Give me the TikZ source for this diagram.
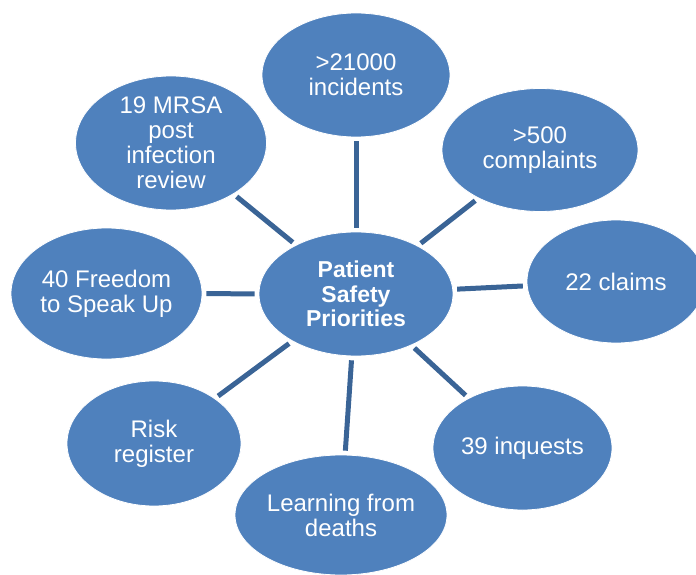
\documentclass[tikz,border=0pt]{standalone}
\usepackage{fontspec}
\setmainfont{Liberation Sans}
\usetikzlibrary{shapes.geometric}
\definecolor{bubble}{HTML}{4F81BD}
\definecolor{connc}{HTML}{3A6496}
\tikzset{
  bub/.style={ellipse, fill=bubble, draw=white, line width=0.8pt, inner sep=0pt,
    text=white, align=center, font=\fontsize{24}{25}\selectfont},
  conn/.style={draw=connc, line width=5pt, shorten <=4pt, shorten >=4pt}
}
\begin{document}
\begin{tikzpicture}[x=1pt,y=-1pt]
\useasboundingbox (0,0) rectangle (696,575);
\node[bub, minimum width=194pt, minimum height=124pt, font=\fontsize{23}{24.5}\selectfont\bfseries] (c) at (356,294) {Patient\\Safety\\Priorities};
\node[bub, minimum width=188pt, minimum height=124pt] (inc) at (356,75) {>21000\\incidents};
\node[bub, minimum width=196pt, minimum height=123pt] (comp) at (540,150) {>500\\complaints};
\node[bub, minimum width=178pt, minimum height=123pt] (claims) at (616,281.5) {22 claims};
\node[bub, minimum width=179pt, minimum height=124pt] (inq) at (522.5,448) {39 inquests};
\node[bub, minimum width=212pt, minimum height=120pt] (learn) at (341,515) {Learning from\\deaths};
\node[bub, minimum width=174pt, minimum height=125pt] (risk) at (154,443.5) {Risk\\register};
\node[bub, minimum width=191pt, minimum height=131pt] (free) at (106.5,293.5) {40 Freedom\\to Speak Up};
\node[bub, minimum width=191pt, minimum height=134pt] (mrsa) at (171,143) {19 MRSA\\post\\infection\\review};
\draw[conn] (c) -- (inc);
\draw[conn] (c) -- (comp);
\draw[conn] (c) -- (claims);
\draw[conn] (c) -- (inq);
\draw[conn] (c) -- (learn);
\draw[conn] (c) -- (risk);
\draw[conn] (c) -- (free);
\draw[conn] (c) -- (mrsa);
\end{tikzpicture}
\end{document}
